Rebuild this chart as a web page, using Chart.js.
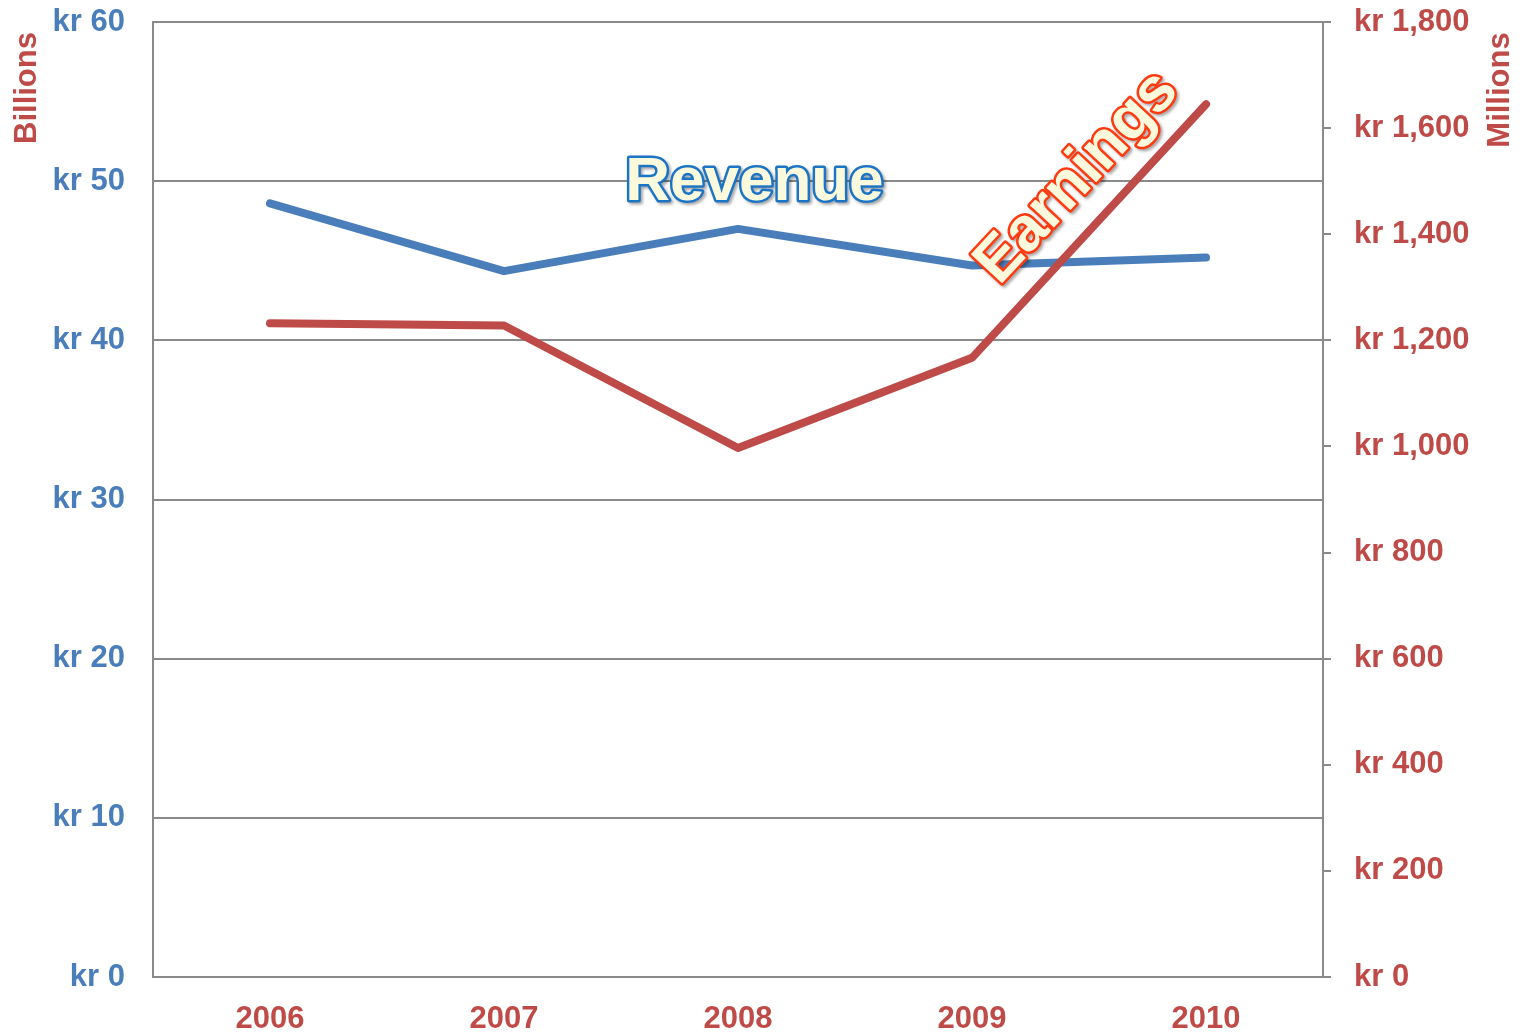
<!DOCTYPE html>
<html>
<head>
<meta charset="utf-8">
<script src="https://cdn.jsdelivr.net/npm/chart.js@4/dist/chart.umd.min.js"></script>
<style>
  html, body { margin: 0; padding: 0; background: #ffffff; }
  canvas { display: block; }
</style>
</head>
<body>
<canvas id="c" width="1522" height="1032"></canvas>
<script>
const years = ['2006', '2007', '2008', '2009', '2010'];
const revenueBillions = [48.6, 44.35, 47.0, 44.7, 45.2];
const earningsMillions = [1232, 1228, 997, 1167, 1645];
const leftTicks = [0, 10, 20, 30, 40, 50, 60];
const rightTicks = [0, 200, 400, 600, 800, 1000, 1200, 1400, 1600, 1800];

const BLUE = '#4a7ebb';
const RED = '#be4b48';
const GRID = '#8a8a8a';
const FONT = '"Liberation Sans", Arial, sans-serif';

const fmtKr = v => 'kr ' + v.toLocaleString('en-US');

const textPlugin = {
  id: 'texts',
  afterDatasetsDraw(chart) {
    const ctx = chart.ctx;
    const a = chart.chartArea;
    const W = a.right - a.left, H = a.bottom - a.top;
    // axis titles
    ctx.save();
    ctx.fillStyle = RED;
    ctx.font = 'bold 31px ' + FONT;
    ctx.textAlign = 'center';
    ctx.textBaseline = 'middle';
    ctx.save();
    ctx.translate(27, 88);
    ctx.rotate(-Math.PI / 2);
    ctx.fillText('Billions', 0, 0);
    ctx.restore();
    ctx.save();
    ctx.translate(1500, 90);
    ctx.rotate(-Math.PI / 2);
    ctx.fillText('Millions', 0, 0);
    ctx.restore();
    ctx.restore();

    function fancy(text, cx, cy, angle, stroke) {
      ctx.save();
      ctx.translate(cx, cy);
      ctx.rotate(angle);
      ctx.font = 'bold 62px ' + FONT;
      ctx.textAlign = 'center';
      ctx.textBaseline = 'middle';
      ctx.lineJoin = 'round';
      ctx.shadowColor = 'rgba(0,0,0,0.35)';
      ctx.shadowOffsetX = 2;
      ctx.shadowOffsetY = 2;
      ctx.shadowBlur = 3;
      ctx.strokeStyle = stroke;
      ctx.lineWidth = 5;
      ctx.strokeText(text, 0, 0);
      ctx.shadowColor = 'transparent';
      ctx.fillStyle = '#fbf9dc';
      ctx.fillText(text, 0, 0);
      ctx.restore();
    }
    fancy('Revenue', a.left + W * 0.514, a.top + H * 0.169, 0, '#1c74c4');
    fancy('Earnings', a.left + W * 0.79, a.top + H * 0.163, -47 * Math.PI / 180, '#ff3a10');
  }
};

new Chart(document.getElementById('c'), {
  type: 'line',
  data: {
    labels: years,
    datasets: [
      {
        label: 'Revenue',
        data: revenueBillions,
        yAxisID: 'y',
        borderColor: BLUE,
        borderWidth: 8,
        borderCapStyle: 'round',
        borderJoinStyle: 'round',
        pointRadius: 0,
        tension: 0,
        order: 1
      },
      {
        label: 'Earnings',
        data: earningsMillions,
        yAxisID: 'y1',
        borderColor: RED,
        borderWidth: 8,
        borderCapStyle: 'round',
        borderJoinStyle: 'round',
        pointRadius: 0,
        tension: 0,
        order: 0
      }
    ]
  },
  options: {
    responsive: false,
    animation: false,
    devicePixelRatio: 1,
    layout: { padding: { top: 22, left: 0, right: 0, bottom: 0 } },
    plugins: { legend: { display: false }, tooltip: { enabled: false } },
    scales: {
      x: {
        offset: true,
        grid: { display: false },
        border: { display: true, color: GRID, width: 2 },
        ticks: { color: RED, font: { family: FONT, size: 31, weight: 'bold' }, padding: 16, maxRotation: 0 },
        afterFit(s) { s.height = 55; s.paddingLeft = 0; s.paddingRight = 0; }
      },
      y: {
        position: 'left',
        min: 0, max: 60,
        afterBuildTicks(s) { s.ticks = leftTicks.map(v => ({ value: v })); },
        grid: { color: GRID, lineWidth: 2, drawTicks: false },
        border: { display: true, color: GRID, width: 2 },
        ticks: { color: BLUE, font: { family: FONT, size: 31, weight: 'bold' }, padding: 28, callback: v => fmtKr(v) },
        afterFit(s) { s.width = 153; s.paddingTop = 0; s.paddingBottom = 0; }
      },
      y1: {
        position: 'right',
        min: 0, max: 1800,
        afterBuildTicks(s) { s.ticks = rightTicks.map(v => ({ value: v })); },
        grid: { drawOnChartArea: false, color: GRID, lineWidth: 2, drawTicks: true, tickLength: 8 },
        border: { display: true, color: GRID, width: 2 },
        ticks: { color: RED, font: { family: FONT, size: 31, weight: 'bold' }, padding: 23, callback: v => fmtKr(v) },
        afterFit(s) { s.width = 199; s.paddingTop = 0; s.paddingBottom = 0; }
      }
    }
  },
  plugins: [textPlugin]
});
</script>
</body>
</html>
